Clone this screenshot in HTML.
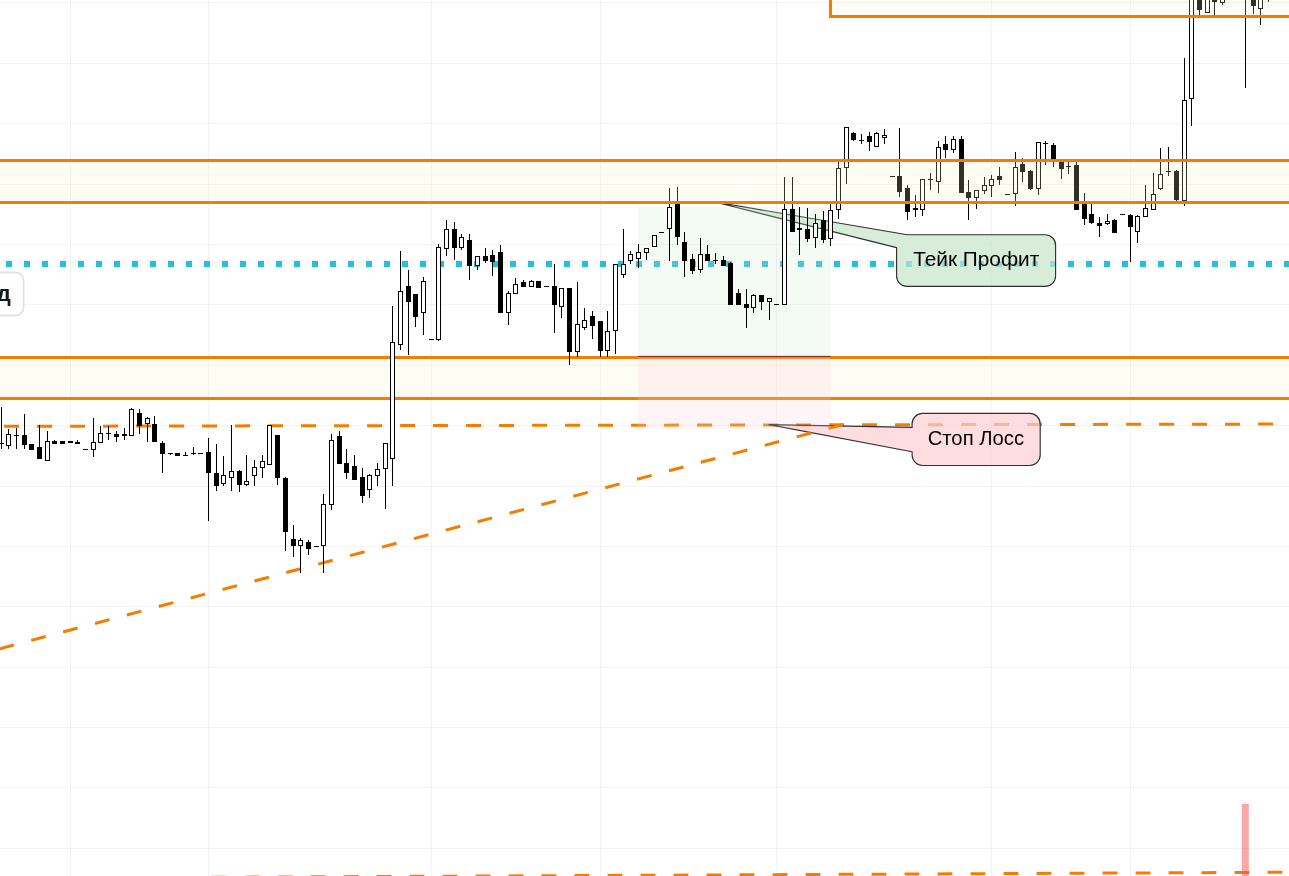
<!DOCTYPE html>
<html lang="ru"><head><meta charset="utf-8"><title>Chart</title>
<style>html,body{margin:0;padding:0;background:#fff;overflow:hidden}svg{display:block}text{font-family:"Liberation Sans",sans-serif}</style></head><body>
<svg width="1289" height="876" viewBox="0 0 1289 876">
<rect width="1289" height="876" fill="#ffffff"/>
<g stroke-width="1" fill="none" shape-rendering="crispEdges">
<line x1="0" y1="2.5" x2="1289" y2="2.5" stroke="rgba(42,46,57,0.052)"/>
<line x1="0" y1="63.5" x2="1289" y2="63.5" stroke="rgba(42,46,57,0.052)"/>
<line x1="0" y1="123.5" x2="1289" y2="123.5" stroke="rgba(42,46,57,0.052)"/>
<line x1="0" y1="184.5" x2="1289" y2="184.5" stroke="rgba(42,46,57,0.052)"/>
<line x1="0" y1="244.5" x2="1289" y2="244.5" stroke="rgba(42,46,57,0.052)"/>
<line x1="0" y1="304.5" x2="1289" y2="304.5" stroke="rgba(42,46,57,0.052)"/>
<line x1="0" y1="365.5" x2="1289" y2="365.5" stroke="rgba(42,46,57,0.052)"/>
<line x1="0" y1="425.5" x2="1289" y2="425.5" stroke="rgba(42,46,57,0.052)"/>
<line x1="0" y1="486.5" x2="1289" y2="486.5" stroke="rgba(42,46,57,0.052)"/>
<line x1="0" y1="546.5" x2="1289" y2="546.5" stroke="rgba(42,46,57,0.052)"/>
<line x1="0" y1="606.5" x2="1289" y2="606.5" stroke="rgba(42,46,57,0.052)"/>
<line x1="0" y1="667.5" x2="1289" y2="667.5" stroke="rgba(42,46,57,0.052)"/>
<line x1="0" y1="727.5" x2="1289" y2="727.5" stroke="rgba(42,46,57,0.052)"/>
<line x1="0" y1="787.5" x2="1289" y2="787.5" stroke="rgba(42,46,57,0.052)"/>
<line x1="0" y1="848.5" x2="1289" y2="848.5" stroke="rgba(42,46,57,0.052)"/>
<line x1="70.5" y1="0" x2="70.5" y2="876" stroke="rgba(42,46,57,0.058)"/>
<line x1="208.5" y1="0" x2="208.5" y2="876" stroke="rgba(42,46,57,0.058)"/>
<line x1="431.5" y1="0" x2="431.5" y2="876" stroke="rgba(42,46,57,0.058)"/>
<line x1="600.5" y1="0" x2="600.5" y2="876" stroke="rgba(42,46,57,0.058)"/>
<line x1="776.5" y1="0" x2="776.5" y2="876" stroke="rgba(42,46,57,0.058)"/>
<line x1="991.5" y1="0" x2="991.5" y2="876" stroke="rgba(42,46,57,0.058)"/>
<line x1="1130.5" y1="0" x2="1130.5" y2="876" stroke="rgba(42,46,57,0.058)"/>
</g>
<line x1="6" y1="264" x2="1289" y2="264" stroke="#26bed6" stroke-width="6" stroke-dasharray="6 12"/>
<line x1="4.1" y1="426.3" x2="1289" y2="424.04" stroke="#f57c00" stroke-width="3" stroke-dasharray="15 18"/>
<rect x="-20" y="272.5" width="43.6" height="43" rx="8" ry="8" fill="#fff" stroke="#dfe2ea" stroke-width="1.8"/>
<text x="10.9" y="301.2" font-size="22.5" font-weight="bold" fill="#131722" text-anchor="end">д</text>
<path d="M714,201.8 L907.3,234.7 L1045.1,234.7 A10.5,10.5 0 0 1 1055.6,245.2 L1055.6,275.9 A10.5,10.5 0 0 1 1045.1,286.4 L907.1,286.4 A10.5,10.5 0 0 1 896.6,275.9  L896.6,247.6 Z" fill="rgba(200,230,201,0.7)" stroke="#303030" stroke-width="1.15" stroke-linejoin="round"/>
<path d="M769,424.6 L912.1,427.4 L912.1,423.9 A10.5,10.5 0 0 1 922.6,413.4 L1029.7,413.4 A10.5,10.5 0 0 1 1040.2,423.9 L1040.2,455.0 A10.5,10.5 0 0 1 1029.7,465.5 L922.6,465.5 A10.5,10.5 0 0 1 912.1,455.0  L912.1,451.8 Z" fill="rgba(255,205,210,0.7)" stroke="#303030" stroke-width="1.15" stroke-linejoin="round"/>
<line x1="-32.6" y1="657.37" x2="845" y2="424.0" stroke="#f57c00" stroke-width="3" stroke-dasharray="15 18"/>
<rect x="0" y="357.5" width="1289" height="41.0" fill="rgba(250,246,195,0.2)"/>
<line x1="0" y1="357.5" x2="1289" y2="357.5" stroke="#f57c00" stroke-width="3"/>
<line x1="0" y1="398.5" x2="1289" y2="398.5" stroke="#f57c00" stroke-width="3"/>
<rect x="637.8" y="207" width="192.8" height="149.4" fill="rgba(200,230,201,0.2)"/>
<rect x="637.8" y="356.4" width="192.8" height="72.3" fill="rgba(255,205,210,0.2)"/>
<line x1="637.8" y1="356.4" x2="830.6" y2="356.4" stroke="#7a1f1f" stroke-width="1"/>
<g shape-rendering="crispEdges">
<rect x="1" y="407" width="1" height="42" fill="#000"/><rect x="-1" y="443" width="5" height="1" fill="#000"/>
<rect x="8" y="429" width="1" height="20" fill="#000"/><rect x="6" y="434" width="5" height="12" fill="#000"/><rect x="7" y="435" width="3" height="10" fill="#fff"/>
<rect x="16" y="428" width="1" height="21" fill="#000"/><rect x="14" y="435" width="5" height="1" fill="#000"/>
<rect x="24" y="414" width="1" height="35" fill="#000"/><rect x="22" y="435" width="5" height="10" fill="#000"/>
<rect x="31" y="444" width="1" height="6" fill="#000"/><rect x="29" y="444" width="5" height="6" fill="#000"/>
<rect x="39" y="425" width="1" height="34" fill="#000"/><rect x="37" y="447" width="5" height="12" fill="#000"/>
<rect x="47" y="431" width="1" height="30" fill="#000"/><rect x="45" y="441" width="5" height="20" fill="#000"/><rect x="46" y="442" width="3" height="18" fill="#fff"/>
<rect x="54" y="440" width="1" height="4" fill="#000"/><rect x="52" y="441" width="5" height="3" fill="#000"/>
<rect x="62" y="441" width="1" height="3" fill="#000"/><rect x="60" y="441" width="5" height="3" fill="#000"/>
<rect x="70" y="441" width="1" height="2" fill="#000"/><rect x="68" y="441" width="5" height="2" fill="#000"/>
<rect x="77" y="440" width="1" height="4" fill="#000"/><rect x="75" y="442" width="5" height="2" fill="#000"/>
<rect x="83" y="449" width="5" height="1" fill="#000"/>
<rect x="93" y="418" width="1" height="39" fill="#000"/><rect x="91" y="442" width="5" height="8" fill="#000"/><rect x="92" y="443" width="3" height="6" fill="#fff"/>
<rect x="100" y="426" width="1" height="17" fill="#000"/><rect x="98" y="433" width="5" height="10" fill="#000"/><rect x="99" y="434" width="3" height="8" fill="#fff"/>
<rect x="108" y="426" width="1" height="14" fill="#000"/><rect x="106" y="433" width="5" height="1" fill="#000"/>
<rect x="116" y="431" width="1" height="11" fill="#000"/><rect x="114" y="434" width="5" height="3" fill="#000"/>
<rect x="124" y="428" width="1" height="12" fill="#000"/><rect x="122" y="434" width="5" height="2" fill="#000"/>
<rect x="131" y="408" width="1" height="28" fill="#000"/><rect x="129" y="409" width="5" height="27" fill="#000"/><rect x="130" y="410" width="3" height="25" fill="#fff"/>
<rect x="139" y="409" width="1" height="25" fill="#000"/><rect x="137" y="413" width="5" height="13" fill="#000"/>
<rect x="147" y="417" width="1" height="25" fill="#000"/><rect x="145" y="418" width="5" height="6" fill="#000"/><rect x="146" y="419" width="3" height="4" fill="#fff"/>
<rect x="154" y="416" width="1" height="26" fill="#000"/><rect x="152" y="424" width="5" height="18" fill="#000"/>
<rect x="162" y="441" width="1" height="32" fill="#000"/><rect x="160" y="443" width="5" height="11" fill="#000"/>
<rect x="170" y="453" width="1" height="2" fill="#000"/><rect x="168" y="453" width="5" height="1" fill="#000"/>
<rect x="177" y="453" width="1" height="3" fill="#000"/><rect x="175" y="453" width="5" height="3" fill="#000"/>
<rect x="185" y="452" width="1" height="3" fill="#000"/><rect x="183" y="455" width="5" height="1" fill="#000"/>
<rect x="193" y="447" width="1" height="8" fill="#000"/><rect x="191" y="453" width="5" height="1" fill="#000"/>
<rect x="198" y="453" width="5" height="1" fill="#000"/>
<rect x="208" y="438" width="1" height="83" fill="#000"/><rect x="206" y="452" width="5" height="21" fill="#000"/>
<rect x="216" y="444" width="1" height="47" fill="#000"/><rect x="214" y="473" width="5" height="13" fill="#000"/>
<rect x="223" y="456" width="1" height="30" fill="#000"/><rect x="221" y="475" width="5" height="9" fill="#000"/><rect x="222" y="476" width="3" height="7" fill="#fff"/>
<rect x="231" y="425" width="1" height="66" fill="#000"/><rect x="229" y="471" width="5" height="7" fill="#000"/><rect x="230" y="472" width="3" height="5" fill="#fff"/>
<rect x="239" y="470" width="1" height="22" fill="#000"/><rect x="237" y="471" width="5" height="14" fill="#000"/>
<rect x="246" y="455" width="1" height="31" fill="#000"/><rect x="244" y="481" width="5" height="4" fill="#000"/><rect x="245" y="482" width="3" height="2" fill="#fff"/>
<rect x="254" y="460" width="1" height="26" fill="#000"/><rect x="252" y="467" width="5" height="9" fill="#000"/><rect x="253" y="468" width="3" height="7" fill="#fff"/>
<rect x="262" y="455" width="1" height="23" fill="#000"/><rect x="260" y="461" width="5" height="7" fill="#000"/><rect x="261" y="462" width="3" height="5" fill="#fff"/>
<rect x="269" y="425" width="1" height="40" fill="#000"/><rect x="267" y="425" width="5" height="40" fill="#000"/><rect x="268" y="426" width="3" height="38" fill="#fff"/>
<rect x="277" y="435" width="1" height="50" fill="#000"/><rect x="275" y="435" width="5" height="43" fill="#000"/>
<rect x="285" y="477" width="1" height="74" fill="#000"/><rect x="283" y="478" width="5" height="54" fill="#000"/>
<rect x="293" y="525" width="1" height="32" fill="#000"/><rect x="291" y="539" width="5" height="7" fill="#000"/>
<rect x="300" y="538" width="1" height="35" fill="#000"/><rect x="298" y="540" width="5" height="6" fill="#000"/><rect x="299" y="541" width="3" height="4" fill="#fff"/>
<rect x="308" y="540" width="1" height="15" fill="#000"/><rect x="306" y="542" width="5" height="7" fill="#000"/>
<rect x="314" y="546" width="5" height="1" fill="#000"/>
<rect x="323" y="494" width="1" height="79" fill="#000"/><rect x="321" y="504" width="5" height="42" fill="#000"/><rect x="322" y="505" width="3" height="40" fill="#fff"/>
<rect x="331" y="434" width="1" height="76" fill="#000"/><rect x="329" y="440" width="5" height="65" fill="#000"/><rect x="330" y="441" width="3" height="63" fill="#fff"/>
<rect x="339" y="431" width="1" height="33" fill="#000"/><rect x="337" y="436" width="5" height="28" fill="#000"/>
<rect x="346" y="449" width="1" height="30" fill="#000"/><rect x="344" y="463" width="5" height="10" fill="#000"/>
<rect x="354" y="455" width="1" height="25" fill="#000"/><rect x="352" y="466" width="5" height="14" fill="#000"/>
<rect x="362" y="468" width="1" height="35" fill="#000"/><rect x="360" y="477" width="5" height="19" fill="#000"/>
<rect x="369" y="474" width="1" height="24" fill="#000"/><rect x="367" y="475" width="5" height="15" fill="#000"/><rect x="368" y="476" width="3" height="13" fill="#fff"/>
<rect x="377" y="463" width="1" height="23" fill="#000"/><rect x="375" y="469" width="5" height="7" fill="#000"/><rect x="376" y="470" width="3" height="5" fill="#fff"/>
<rect x="385" y="443" width="1" height="66" fill="#000"/><rect x="383" y="443" width="5" height="26" fill="#000"/><rect x="384" y="444" width="3" height="24" fill="#fff"/>
<rect x="392" y="306" width="1" height="180" fill="#000"/><rect x="390" y="342" width="5" height="117" fill="#000"/><rect x="391" y="343" width="3" height="115" fill="#fff"/>
<rect x="400" y="251" width="1" height="99" fill="#000"/><rect x="398" y="291" width="5" height="54" fill="#000"/><rect x="399" y="292" width="3" height="52" fill="#fff"/>
<rect x="408" y="270" width="1" height="85" fill="#000"/><rect x="406" y="286" width="5" height="16" fill="#000"/>
<rect x="415" y="294" width="1" height="33" fill="#000"/><rect x="413" y="294" width="5" height="23" fill="#000"/>
<rect x="423" y="277" width="1" height="58" fill="#000"/><rect x="421" y="281" width="5" height="32" fill="#000"/><rect x="422" y="282" width="3" height="30" fill="#fff"/>
<rect x="429" y="339" width="5" height="1" fill="#000"/>
<rect x="438" y="244" width="1" height="97" fill="#000"/><rect x="436" y="247" width="5" height="93" fill="#000"/><rect x="437" y="248" width="3" height="91" fill="#fff"/>
<rect x="446" y="220" width="1" height="36" fill="#000"/><rect x="444" y="229" width="5" height="20" fill="#000"/><rect x="445" y="230" width="3" height="18" fill="#fff"/>
<rect x="454" y="222" width="1" height="38" fill="#000"/><rect x="452" y="229" width="5" height="19" fill="#000"/>
<rect x="461" y="234" width="1" height="16" fill="#000"/><rect x="459" y="237" width="5" height="11" fill="#000"/><rect x="460" y="238" width="3" height="9" fill="#fff"/>
<rect x="469" y="234" width="1" height="46" fill="#000"/><rect x="467" y="240" width="5" height="26" fill="#000"/>
<rect x="477" y="256" width="1" height="14" fill="#000"/><rect x="475" y="256" width="5" height="10" fill="#000"/><rect x="476" y="257" width="3" height="8" fill="#fff"/>
<rect x="485" y="248" width="1" height="15" fill="#000"/><rect x="483" y="256" width="5" height="5" fill="#000"/>
<rect x="492" y="250" width="1" height="26" fill="#000"/><rect x="490" y="255" width="5" height="7" fill="#000"/>
<rect x="500" y="245" width="1" height="68" fill="#000"/><rect x="498" y="252" width="5" height="61" fill="#000"/>
<rect x="508" y="291" width="1" height="34" fill="#000"/><rect x="506" y="293" width="5" height="20" fill="#000"/><rect x="507" y="294" width="3" height="18" fill="#fff"/>
<rect x="515" y="278" width="1" height="16" fill="#000"/><rect x="513" y="284" width="5" height="10" fill="#000"/><rect x="514" y="285" width="3" height="8" fill="#fff"/>
<rect x="523" y="280" width="1" height="7" fill="#000"/><rect x="521" y="282" width="5" height="5" fill="#000"/>
<rect x="531" y="280" width="1" height="7" fill="#000"/><rect x="529" y="281" width="5" height="6" fill="#000"/><rect x="530" y="282" width="3" height="4" fill="#fff"/>
<rect x="538" y="281" width="1" height="7" fill="#000"/><rect x="536" y="281" width="5" height="7" fill="#000"/>
<rect x="544" y="286" width="5" height="1" fill="#000"/>
<rect x="554" y="264" width="1" height="69" fill="#000"/><rect x="552" y="286" width="5" height="19" fill="#000"/>
<rect x="561" y="288" width="1" height="30" fill="#000"/><rect x="559" y="288" width="5" height="19" fill="#000"/><rect x="560" y="289" width="3" height="17" fill="#fff"/>
<rect x="569" y="288" width="1" height="77" fill="#000"/><rect x="567" y="288" width="5" height="64" fill="#000"/>
<rect x="577" y="282" width="1" height="75" fill="#000"/><rect x="575" y="324" width="5" height="28" fill="#000"/><rect x="576" y="325" width="3" height="26" fill="#fff"/>
<rect x="584" y="308" width="1" height="22" fill="#000"/><rect x="582" y="320" width="5" height="8" fill="#000"/><rect x="583" y="321" width="3" height="6" fill="#fff"/>
<rect x="592" y="311" width="1" height="28" fill="#000"/><rect x="590" y="316" width="5" height="10" fill="#000"/>
<rect x="600" y="321" width="1" height="36" fill="#000"/><rect x="598" y="321" width="5" height="30" fill="#000"/>
<rect x="607" y="311" width="1" height="46" fill="#000"/><rect x="605" y="331" width="5" height="20" fill="#000"/><rect x="606" y="332" width="3" height="18" fill="#fff"/>
<rect x="615" y="264" width="1" height="90" fill="#000"/><rect x="613" y="264" width="5" height="67" fill="#000"/><rect x="614" y="265" width="3" height="65" fill="#fff"/>
<rect x="623" y="229" width="1" height="49" fill="#000"/><rect x="621" y="264" width="5" height="11" fill="#000"/><rect x="622" y="265" width="3" height="9" fill="#fff"/>
<rect x="630" y="251" width="1" height="13" fill="#000"/><rect x="628" y="254" width="5" height="7" fill="#000"/><rect x="629" y="255" width="3" height="5" fill="#fff"/>
<rect x="638" y="244" width="1" height="24" fill="#000"/><rect x="636" y="252" width="5" height="7" fill="#000"/><rect x="637" y="253" width="3" height="5" fill="#fff"/>
<rect x="646" y="248" width="1" height="12" fill="#000"/><rect x="644" y="248" width="5" height="5" fill="#000"/><rect x="645" y="249" width="3" height="3" fill="#fff"/>
<rect x="654" y="235" width="1" height="12" fill="#000"/><rect x="652" y="235" width="5" height="12" fill="#000"/><rect x="653" y="236" width="3" height="10" fill="#fff"/>
<rect x="659" y="232" width="5" height="1" fill="#000"/>
<rect x="669" y="188" width="1" height="73" fill="#000"/><rect x="667" y="207" width="5" height="22" fill="#000"/><rect x="668" y="208" width="3" height="20" fill="#fff"/>
<rect x="677" y="187" width="1" height="58" fill="#000"/><rect x="675" y="204" width="5" height="33" fill="#000"/>
<rect x="684" y="232" width="1" height="45" fill="#000"/><rect x="682" y="242" width="5" height="19" fill="#000"/>
<rect x="692" y="254" width="1" height="20" fill="#000"/><rect x="690" y="259" width="5" height="12" fill="#000"/>
<rect x="700" y="238" width="1" height="35" fill="#000"/><rect x="698" y="254" width="5" height="16" fill="#000"/><rect x="699" y="255" width="3" height="14" fill="#fff"/>
<rect x="707" y="245" width="1" height="16" fill="#000"/><rect x="705" y="254" width="5" height="7" fill="#000"/>
<rect x="715" y="253" width="1" height="11" fill="#000"/><rect x="713" y="260" width="5" height="1" fill="#000"/>
<rect x="723" y="256" width="1" height="10" fill="#000"/><rect x="721" y="260" width="5" height="6" fill="#000"/>
<rect x="730" y="262" width="1" height="43" fill="#000"/><rect x="728" y="263" width="5" height="42" fill="#000"/>
<rect x="738" y="289" width="1" height="16" fill="#000"/><rect x="736" y="293" width="5" height="12" fill="#000"/>
<rect x="746" y="289" width="1" height="39" fill="#000"/><rect x="744" y="304" width="5" height="4" fill="#000"/>
<rect x="753" y="294" width="1" height="19" fill="#000"/><rect x="751" y="295" width="5" height="13" fill="#000"/><rect x="752" y="296" width="3" height="11" fill="#fff"/>
<rect x="761" y="295" width="1" height="15" fill="#000"/><rect x="759" y="295" width="5" height="7" fill="#000"/>
<rect x="769" y="298" width="1" height="22" fill="#000"/><rect x="767" y="298" width="5" height="4" fill="#000"/><rect x="768" y="299" width="3" height="2" fill="#fff"/>
<rect x="774" y="304" width="5" height="1" fill="#000"/>
<rect x="784" y="177" width="1" height="128" fill="#000"/><rect x="782" y="209" width="5" height="96" fill="#000"/><rect x="783" y="210" width="3" height="94" fill="#fff"/>
<rect x="792" y="177" width="1" height="55" fill="#000"/><rect x="790" y="209" width="5" height="23" fill="#000"/>
<rect x="799" y="207" width="1" height="48" fill="#000"/><rect x="797" y="228" width="5" height="2" fill="#000"/>
<rect x="807" y="208" width="1" height="34" fill="#000"/><rect x="805" y="229" width="5" height="10" fill="#000"/>
<rect x="815" y="214" width="1" height="34" fill="#000"/><rect x="813" y="223" width="5" height="15" fill="#000"/><rect x="814" y="224" width="3" height="13" fill="#fff"/>
<rect x="823" y="211" width="1" height="32" fill="#000"/><rect x="821" y="220" width="5" height="20" fill="#000"/>
<rect x="830" y="204" width="1" height="42" fill="#000"/><rect x="828" y="210" width="5" height="29" fill="#000"/><rect x="829" y="211" width="3" height="27" fill="#fff"/>
<rect x="838" y="162" width="1" height="57" fill="#000"/><rect x="836" y="168" width="5" height="42" fill="#000"/><rect x="837" y="169" width="3" height="40" fill="#fff"/>
<rect x="846" y="127" width="1" height="57" fill="#000"/><rect x="844" y="127" width="5" height="41" fill="#000"/><rect x="845" y="128" width="3" height="39" fill="#fff"/>
<rect x="853" y="132" width="1" height="9" fill="#000"/><rect x="851" y="133" width="5" height="7" fill="#000"/>
<rect x="861" y="134" width="1" height="10" fill="#000"/><rect x="859" y="140" width="5" height="1" fill="#000"/>
<rect x="869" y="132" width="1" height="19" fill="#000"/><rect x="867" y="136" width="5" height="6" fill="#000"/>
<rect x="876" y="132" width="1" height="15" fill="#000"/><rect x="874" y="133" width="5" height="14" fill="#000"/><rect x="875" y="134" width="3" height="12" fill="#fff"/>
<rect x="884" y="129" width="1" height="15" fill="#000"/><rect x="882" y="135" width="5" height="3" fill="#000"/><rect x="883" y="136" width="3" height="1" fill="#fff"/>
<rect x="890" y="176" width="5" height="1" fill="#000"/>
<rect x="899" y="128" width="1" height="69" fill="#000"/><rect x="897" y="176" width="5" height="16" fill="#000"/>
<rect x="907" y="185" width="1" height="35" fill="#000"/><rect x="905" y="188" width="5" height="24" fill="#000"/>
<rect x="915" y="195" width="1" height="22" fill="#000"/><rect x="913" y="208" width="5" height="2" fill="#000"/>
<rect x="922" y="179" width="1" height="37" fill="#000"/><rect x="920" y="179" width="5" height="31" fill="#000"/><rect x="921" y="180" width="3" height="29" fill="#fff"/>
<rect x="930" y="173" width="1" height="17" fill="#000"/><rect x="928" y="179" width="5" height="1" fill="#000"/>
<rect x="938" y="141" width="1" height="52" fill="#000"/><rect x="936" y="147" width="5" height="35" fill="#000"/><rect x="937" y="148" width="3" height="33" fill="#fff"/>
<rect x="945" y="136" width="1" height="22" fill="#000"/><rect x="943" y="144" width="5" height="6" fill="#000"/>
<rect x="953" y="136" width="1" height="17" fill="#000"/><rect x="951" y="139" width="5" height="11" fill="#000"/><rect x="952" y="140" width="3" height="9" fill="#fff"/>
<rect x="961" y="136" width="1" height="57" fill="#000"/><rect x="959" y="139" width="5" height="54" fill="#000"/>
<rect x="968" y="180" width="1" height="40" fill="#000"/><rect x="966" y="192" width="5" height="6" fill="#000"/>
<rect x="976" y="190" width="1" height="19" fill="#000"/><rect x="974" y="190" width="5" height="8" fill="#000"/><rect x="975" y="191" width="3" height="6" fill="#fff"/>
<rect x="984" y="177" width="1" height="17" fill="#000"/><rect x="982" y="185" width="5" height="6" fill="#000"/><rect x="983" y="186" width="3" height="4" fill="#fff"/>
<rect x="991" y="175" width="1" height="22" fill="#000"/><rect x="989" y="179" width="5" height="7" fill="#000"/><rect x="990" y="180" width="3" height="5" fill="#fff"/>
<rect x="999" y="167" width="1" height="18" fill="#000"/><rect x="997" y="176" width="5" height="4" fill="#000"/>
<rect x="1005" y="194" width="5" height="1" fill="#000"/>
<rect x="1015" y="152" width="1" height="54" fill="#000"/><rect x="1013" y="167" width="5" height="27" fill="#000"/><rect x="1014" y="168" width="3" height="25" fill="#fff"/>
<rect x="1022" y="158" width="1" height="24" fill="#000"/><rect x="1020" y="164" width="5" height="8" fill="#000"/>
<rect x="1030" y="170" width="1" height="20" fill="#000"/><rect x="1028" y="171" width="5" height="18" fill="#000"/>
<rect x="1038" y="142" width="1" height="53" fill="#000"/><rect x="1036" y="142" width="5" height="47" fill="#000"/><rect x="1037" y="143" width="3" height="45" fill="#fff"/>
<rect x="1045" y="141" width="1" height="24" fill="#000"/><rect x="1043" y="143" width="5" height="1" fill="#000"/>
<rect x="1053" y="143" width="1" height="24" fill="#000"/><rect x="1051" y="145" width="5" height="14" fill="#000"/>
<rect x="1061" y="161" width="1" height="18" fill="#000"/><rect x="1059" y="161" width="5" height="8" fill="#000"/>
<rect x="1068" y="161" width="1" height="13" fill="#000"/><rect x="1066" y="166" width="5" height="1" fill="#000"/>
<rect x="1076" y="162" width="1" height="48" fill="#000"/><rect x="1074" y="165" width="5" height="45" fill="#000"/>
<rect x="1084" y="193" width="1" height="32" fill="#000"/><rect x="1082" y="203" width="5" height="16" fill="#000"/>
<rect x="1091" y="203" width="1" height="21" fill="#000"/><rect x="1089" y="214" width="5" height="9" fill="#000"/>
<rect x="1099" y="217" width="1" height="20" fill="#000"/><rect x="1097" y="223" width="5" height="3" fill="#000"/>
<rect x="1107" y="214" width="1" height="11" fill="#000"/><rect x="1105" y="221" width="5" height="3" fill="#000"/><rect x="1106" y="222" width="3" height="1" fill="#fff"/>
<rect x="1114" y="219" width="1" height="14" fill="#000"/><rect x="1112" y="220" width="5" height="13" fill="#000"/>
<rect x="1120" y="214" width="5" height="1" fill="#000"/>
<rect x="1130" y="214" width="1" height="48" fill="#000"/><rect x="1128" y="215" width="5" height="12" fill="#000"/>
<rect x="1137" y="215" width="1" height="28" fill="#000"/><rect x="1135" y="216" width="5" height="16" fill="#000"/><rect x="1136" y="217" width="3" height="14" fill="#fff"/>
<rect x="1145" y="185" width="1" height="32" fill="#000"/><rect x="1143" y="208" width="5" height="9" fill="#000"/><rect x="1144" y="209" width="3" height="7" fill="#fff"/>
<rect x="1153" y="173" width="1" height="37" fill="#000"/><rect x="1151" y="194" width="5" height="16" fill="#000"/><rect x="1152" y="195" width="3" height="14" fill="#fff"/>
<rect x="1160" y="148" width="1" height="42" fill="#000"/><rect x="1158" y="174" width="5" height="15" fill="#000"/><rect x="1159" y="175" width="3" height="13" fill="#fff"/>
<rect x="1168" y="147" width="1" height="29" fill="#000"/><rect x="1166" y="171" width="5" height="1" fill="#000"/>
<rect x="1176" y="170" width="1" height="31" fill="#000"/><rect x="1174" y="171" width="5" height="29" fill="#000"/>
<rect x="1184" y="58" width="1" height="148" fill="#000"/><rect x="1182" y="100" width="5" height="101" fill="#000"/><rect x="1183" y="101" width="3" height="99" fill="#fff"/>
<rect x="1191" y="-5" width="1" height="131" fill="#000"/><rect x="1189" y="-5" width="5" height="104" fill="#000"/><rect x="1190" y="-4" width="3" height="102" fill="#fff"/>
<rect x="1199" y="-5" width="1" height="20" fill="#000"/><rect x="1197" y="-5" width="5" height="15" fill="#000"/>
<rect x="1207" y="-5" width="1" height="18" fill="#000"/><rect x="1205" y="-5" width="5" height="18" fill="#000"/><rect x="1206" y="-4" width="3" height="16" fill="#fff"/>
<rect x="1214" y="-5" width="1" height="20" fill="#000"/><rect x="1212" y="-5" width="5" height="7" fill="#000"/>
<rect x="1222" y="-5" width="1" height="10" fill="#000"/><rect x="1220" y="-5" width="5" height="8" fill="#000"/><rect x="1221" y="-4" width="3" height="6" fill="#fff"/>
<rect x="1245" y="-5" width="1" height="93" fill="#000"/><rect x="1243" y="-5" width="5" height="1" fill="#000"/>
<rect x="1253" y="-5" width="1" height="19" fill="#000"/><rect x="1251" y="-5" width="5" height="11" fill="#000"/>
<rect x="1260" y="-5" width="1" height="30" fill="#000"/><rect x="1258" y="-5" width="5" height="14" fill="#000"/><rect x="1259" y="-4" width="3" height="12" fill="#fff"/>
<rect x="1268" y="-5" width="1" height="7" fill="#000"/><rect x="1266" y="-5" width="5" height="1" fill="#000"/>
</g>
<rect x="0" y="160.5" width="1289" height="42.0" fill="rgba(250,246,195,0.2)"/>
<line x1="0" y1="160.5" x2="1289" y2="160.5" stroke="#f57c00" stroke-width="3"/>
<line x1="0" y1="202.5" x2="1289" y2="202.5" stroke="#f57c00" stroke-width="3"/>
<rect x="830.5" y="-20" width="500" height="36.5" fill="rgba(250,246,195,0.2)" stroke="#f57c00" stroke-width="3"/>
<line x1="145.6" y1="877.6" x2="1300" y2="872.2" stroke="#f57c00" stroke-width="3" stroke-dasharray="14.8 18.2"/>
<rect x="1241.8" y="803.8" width="7" height="80" fill="rgba(239,83,80,0.5)"/>
<text x="913.2" y="265.7" font-size="20.8" fill="#000" textLength="126" lengthAdjust="spacingAndGlyphs">Тейк Профит</text>
<text x="927.7" y="444.7" font-size="20.8" fill="#000" textLength="96.4" lengthAdjust="spacingAndGlyphs">Стоп Лосс</text>
</svg></body></html>
